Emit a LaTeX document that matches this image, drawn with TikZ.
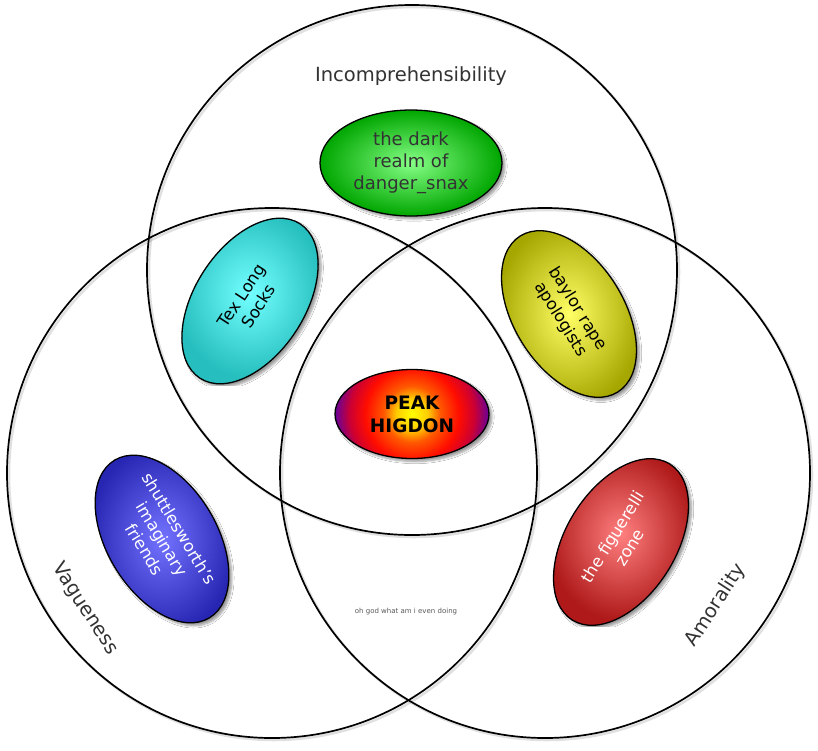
\documentclass[tikz,border=0pt]{standalone}
\usepackage{fontspec}
\setmainfont{DejaVu Sans}
\usetikzlibrary{shapes.geometric,shadows.blur}
\definecolor{txtgray}{HTML}{333333}
\pgfdeclareradialshading{peakshade}{\pgfpoint{0bp}{0bp}}{color(0bp)=(yellow); color(5bp)=(yellow!60!orange); color(9bp)=(orange!70!red); color(15bp)=(red!90!orange); color(20bp)=(red!60!violet); color(25bp)=(violet!75!blue); color(50bp)=(violet!75!blue)}
\begin{document}
\begin{tikzpicture}[x=1pt,y=-1pt,
  venn/.style={draw=black,line width=1.7pt},
  vennshadow/.style={draw=black,line width=2.5pt,opacity=0.12},
  blob/.style={ellipse,draw=black,line width=1.3pt,inner sep=0pt,align=center,
    minimum width=184pt,minimum height=110pt,
    blur shadow={shadow xshift=3pt,shadow yshift=-3pt,shadow opacity=40,shadow blur steps=6},
    font=\fontsize{16.5}{20}\selectfont},
  setlabel/.style={font=\fontsize{19.5}{23}\selectfont,text=txtgray}]
\useasboundingbox (0,0) rectangle (818,750);
\fill[white] (0,0) rectangle (818,750);
\draw[vennshadow] (414,272) circle (265pt);
\draw[vennshadow] (274,475) circle (265pt);
\draw[vennshadow] (547,475) circle (265pt);
\draw[venn] (412,270) circle (265pt);
\draw[venn] (272,473) circle (265pt);
\draw[venn] (545,473) circle (265pt);

\node[setlabel] (inc) at (411,76) {Incomprehensibility};
\node[setlabel,rotate=-57] (vag) at (85,609) {Vagueness};
\node[setlabel,rotate=57] (amo) at (716,605) {Amorality};
\node[font=\fontsize{7}{8}\selectfont,text=black!65] (oh) at (406,612) {oh god what am i even doing};

\node[blob,shading=radial,inner color=green!45!white!95!green,outer color=green!65!black,
  minimum width=182pt,minimum height=106pt,text=txtgray,font=\fontsize{18}{22}\selectfont]
  (dark) at (411,163) {the dark\\realm of\\danger\_snax};
\node[blob,shading=radial,inner color=cyan!55!white,outer color=cyan!70!black!85!white,rotate=57]
  (tex) at (250,301) {Tex Long\\Socks};
\node[blob,shading=radial,inner color=yellow!60!white,outer color=yellow!65!black,rotate=-58]
  (bay) at (569,314) {baylor rape\\apologists};
\node[blob,shading=radial,inner color=blue!55!white,outer color=blue!65!black!85!white,rotate=-59,text=white]
  (shu) at (162,539) {shuttlesworth's\\imaginary\\friends};
\node[blob,shading=radial,inner color=red!50!white,outer color=red!65!black!90!white,rotate=58,text=white]
  (fig) at (621,542) {the figuerelli\\zone};
\node[blob,minimum width=154pt,minimum height=89pt,
  path picture={\shade[shading=peakshade] (path picture bounding box.center) circle (78pt);},
  font=\fontsize{18.5}{23}\selectfont\bfseries]
  (peak) at (412,414) {PEAK\\HIGDON};
\end{tikzpicture}
\end{document}
